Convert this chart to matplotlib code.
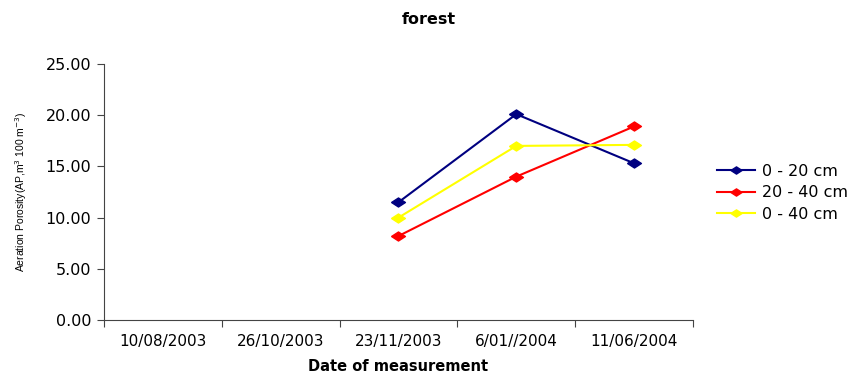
import matplotlib
matplotlib.use('Agg')
import matplotlib.pyplot as plt
import numpy as np

# Data
dates = ['10/08/2003', '26/10/2003', '23/11/2003', '6/01//2004', '11/06/2004']
depth_0_20 = [np.nan, np.nan, 11.5, 20.1, 15.3]
depth_20_40 = [np.nan, np.nan, 8.2, 14.0, 18.9]
depth_0_40 = [np.nan, np.nan, 10.0, 17.0, 17.1]
series_labels = ['0 - 20 cm', '20 - 40 cm', '0 - 40 cm']
series_colors = ['#000080', '#FF0000', '#FFFF00']

plt.rcParams['font.family'] = ['DejaVu Sans']

# wide, flat diamond like the Excel marker
diamond = [(-1, 0), (0, 0.65), (1, 0), (0, -0.65), (-1, 0)]

fig = plt.figure(figsize=(8.58, 3.72), dpi=100)
ax = fig.add_axes([0.1212, 0.1398, 0.6865, 0.6882])

x = np.arange(len(dates))
for vals, lab, col in zip([depth_0_20, depth_20_40, depth_0_40], series_labels, series_colors):
    ax.plot(x, vals, color=col, lw=1.5, marker=diamond, ms=10, label=lab)

ax.set_xlim(-0.5, len(dates) - 0.5)
ax.set_ylim(0, 25)
ax.set_yticks(np.arange(0, 26, 5))
ax.set_yticklabels(['%.2f' % v for v in np.arange(0, 26, 5)], fontsize=11.5)

# category labels sit between the boundary ticks
ax.set_xticks(x)
ax.set_xticklabels(dates, fontsize=11)
ax.tick_params(axis='x', which='major', length=0, pad=10)
ax.set_xticks(np.arange(-0.5, len(dates)), minor=True)
ax.tick_params(axis='x', which='minor', length=5, width=0.8, color='#444444')
ax.tick_params(axis='y', length=5, width=0.8, color='#444444', pad=4)

for s in ['top', 'right']:
    ax.spines[s].set_visible(False)
for s in ['left', 'bottom']:
    ax.spines[s].set_color('#444444')
    ax.spines[s].set_linewidth(0.8)

ax.set_xlabel('Date of measurement', fontsize=10.5, fontweight='bold', labelpad=7)
ax.set_ylabel('Aeration Porosity(AP,m$^{3}$ 100 m$^{-3}$)', fontsize=7.5, labelpad=12,
              family=['Liberation Sans Narrow', 'Liberation Sans'])

fig.text(0.5, 0.948, 'forest', ha='center', va='center', fontsize=11.5, fontweight='bold')

ax.legend(loc='center left', bbox_to_anchor=(1.03, 0.497), frameon=False, fontsize=11.5,
          handlelength=2.4, handletextpad=0.4, labelspacing=0.4, borderaxespad=0,
          markerscale=0.8)

fig.savefig('out.png', dpi=100)
